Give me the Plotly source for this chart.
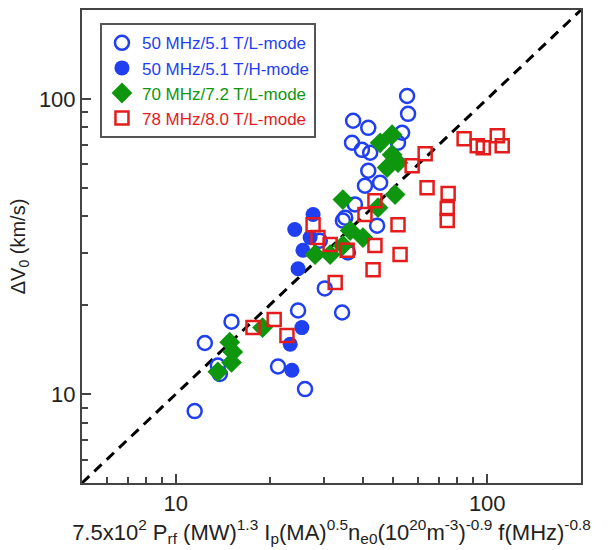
import plotly.graph_objects as go

# 50 MHz / 5.1 T / L-mode (open circles)
l50_x = [11.5, 12.4, 13.65, 13.85, 15.1, 21.3, 26.0, 24.7, 30.1, 34.2, 34.4, 40.5,
         55.3, 55.7, 37.1, 41.5, 36.8, 39.6, 42.1, 53.3, 51.7, 41.5, 45.3, 37.6,
         44.3, 35.0, 29.0, 35.7]
l50_y = [8.76, 14.9, 12.5, 11.7, 17.6, 12.4, 10.4, 19.2, 22.8, 18.9, 38.7, 50.8,
         102.3, 89.0, 84.3, 79.8, 71.0, 67.2, 65.7, 76.8, 71.0, 57.1, 52.0, 43.9,
         37.2, 39.6, 33.1, 30.2]

# 50 MHz / 5.1 T / H-mode (filled circles)
h50_x = [27.6, 24.1, 25.6, 24.7, 25.4, 23.3, 23.6, 27.0]
h50_y = [40.6, 36.1, 30.7, 26.6, 16.8, 14.75, 12.05, 33.9]

# 70 MHz / 7.2 T / L-mode (diamonds)
l70_x = [49.5, 45.3, 49.5, 51.7, 47.7, 50.6, 34.4, 44.6, 36.3, 39.9, 34.4, 31.3,
         28.0, 19.0, 14.9, 15.25, 15.1, 13.65]
l70_y = [75.6, 71.0, 64.7, 60.8, 58.5, 47.4, 45.6, 42.8, 35.8, 33.9, 31.9, 29.7,
         29.7, 16.8, 15.0, 13.9, 12.8, 11.9]

# 78 MHz / 8.0 T / L-mode (open squares)
l78_x = [17.7, 20.7, 22.75, 27.6, 28.6, 31.3, 35.5, 32.5, 40.5, 43.6, 43.6, 43.0,
         51.7, 52.5, 57.4, 63.2, 64.1, 74.9, 74.4, 74.4, 84.3, 92.9, 97.1, 107.7, 111.7]
l78_y = [16.8, 17.9, 15.8, 37.5, 33.9, 32.1, 30.7, 23.9, 40.6, 45.2, 31.9, 26.4,
         37.5, 29.7, 59.4, 65.2, 50.0, 47.8, 42.5, 38.7, 73.3, 69.4, 68.3, 75.0, 69.4]

# y = x reference line
diag = [5, 200]

BLUE = "#1f3ff0"
GREEN = "#0f960f"
RED = "#e41c1c"
FONT = "Liberation Sans, Arial, sans-serif"

fig = go.Figure()
fig.add_trace(go.Scatter(x=diag, y=diag, mode="lines", showlegend=False,
                         line=dict(color="black", width=3, dash="10px,7px")))
fig.add_trace(go.Scatter(
    x=l50_x, y=l50_y, mode="markers",
    name=f"<span style='color:{BLUE}'>50 MHz/5.1 T/L-mode</span>",
    marker=dict(symbol="circle-open", size=14, color=BLUE, line=dict(width=2.5))))
fig.add_trace(go.Scatter(
    x=h50_x, y=h50_y, mode="markers",
    name=f"<span style='color:{BLUE}'>50 MHz/5.1 T/H-mode</span>",
    marker=dict(symbol="circle", size=15, color=BLUE, line=dict(width=0))))
fig.add_trace(go.Scatter(
    x=l70_x, y=l70_y, mode="markers",
    name=f"<span style='color:{GREEN}'>70 MHz/7.2 T/L-mode</span>",
    marker=dict(symbol="diamond", size=16, color=GREEN, line=dict(width=0))))
fig.add_trace(go.Scatter(
    x=l78_x, y=l78_y, mode="markers",
    name=f"<span style='color:{RED}'>78 MHz/8.0 T/L-mode</span>",
    marker=dict(symbol="square-open", size=13, color=RED, line=dict(width=2.5))))

minor_vals = [6, 7, 8, 9, 20, 30, 40, 50, 60, 70, 80, 90]
axis_common = dict(
    type="log", range=[0.69897, 2.30103],
    tickvals=[10, 100], ticktext=["10", "100"],
    ticks="inside", ticklen=9, tickwidth=1.5, tickcolor="#444",
    minor=dict(tickvals=minor_vals, ticks="inside", ticklen=6,
               tickwidth=1.5, tickcolor="#444"),
    showline=True, linecolor="#444", linewidth=2, mirror=True,
    showgrid=False, zeroline=False,
    tickfont=dict(family=FONT, size=22, color="#222"),
)

fig.update_xaxes(**axis_common,
                 title=dict(text="7.5x10<sup>2</sup> P<sub>rf</sub> (MW)<sup>1.3</sup> "
                                 "I<sub>p</sub>(MA)<sup>0.5</sup>n<sub>e0</sub>"
                                 "(10<sup>20</sup>m<sup>-3</sup>)<sup>-0.9</sup> "
                                 "f(MHz)<sup>-0.8</sup>",
                            font=dict(family=FONT, size=22, color="#222"),
                            standoff=6))
fig.update_yaxes(**axis_common,
                 title=dict(text="ΔV<sub>0</sub> (km/s)",
                            font=dict(family=FONT, size=20, color="#222"),
                            standoff=8))

fig.update_layout(
    width=610, height=550,
    margin=dict(l=82, r=29, t=8, b=67),
    plot_bgcolor="white", paper_bgcolor="white",
    font=dict(family=FONT, size=17, color="#222"),
    legend=dict(x=0.036, y=0.972, xanchor="left", yanchor="top",
                bgcolor="white", bordercolor="#555", borderwidth=2,
                font=dict(family=FONT, size=17),
                itemwidth=30, tracegroupgap=0),
)

fig.write_html("out.html",
               config={"displayModeBar": False},
               post_script="document.body.style.margin='0px';document.body.style.padding='0px';")
